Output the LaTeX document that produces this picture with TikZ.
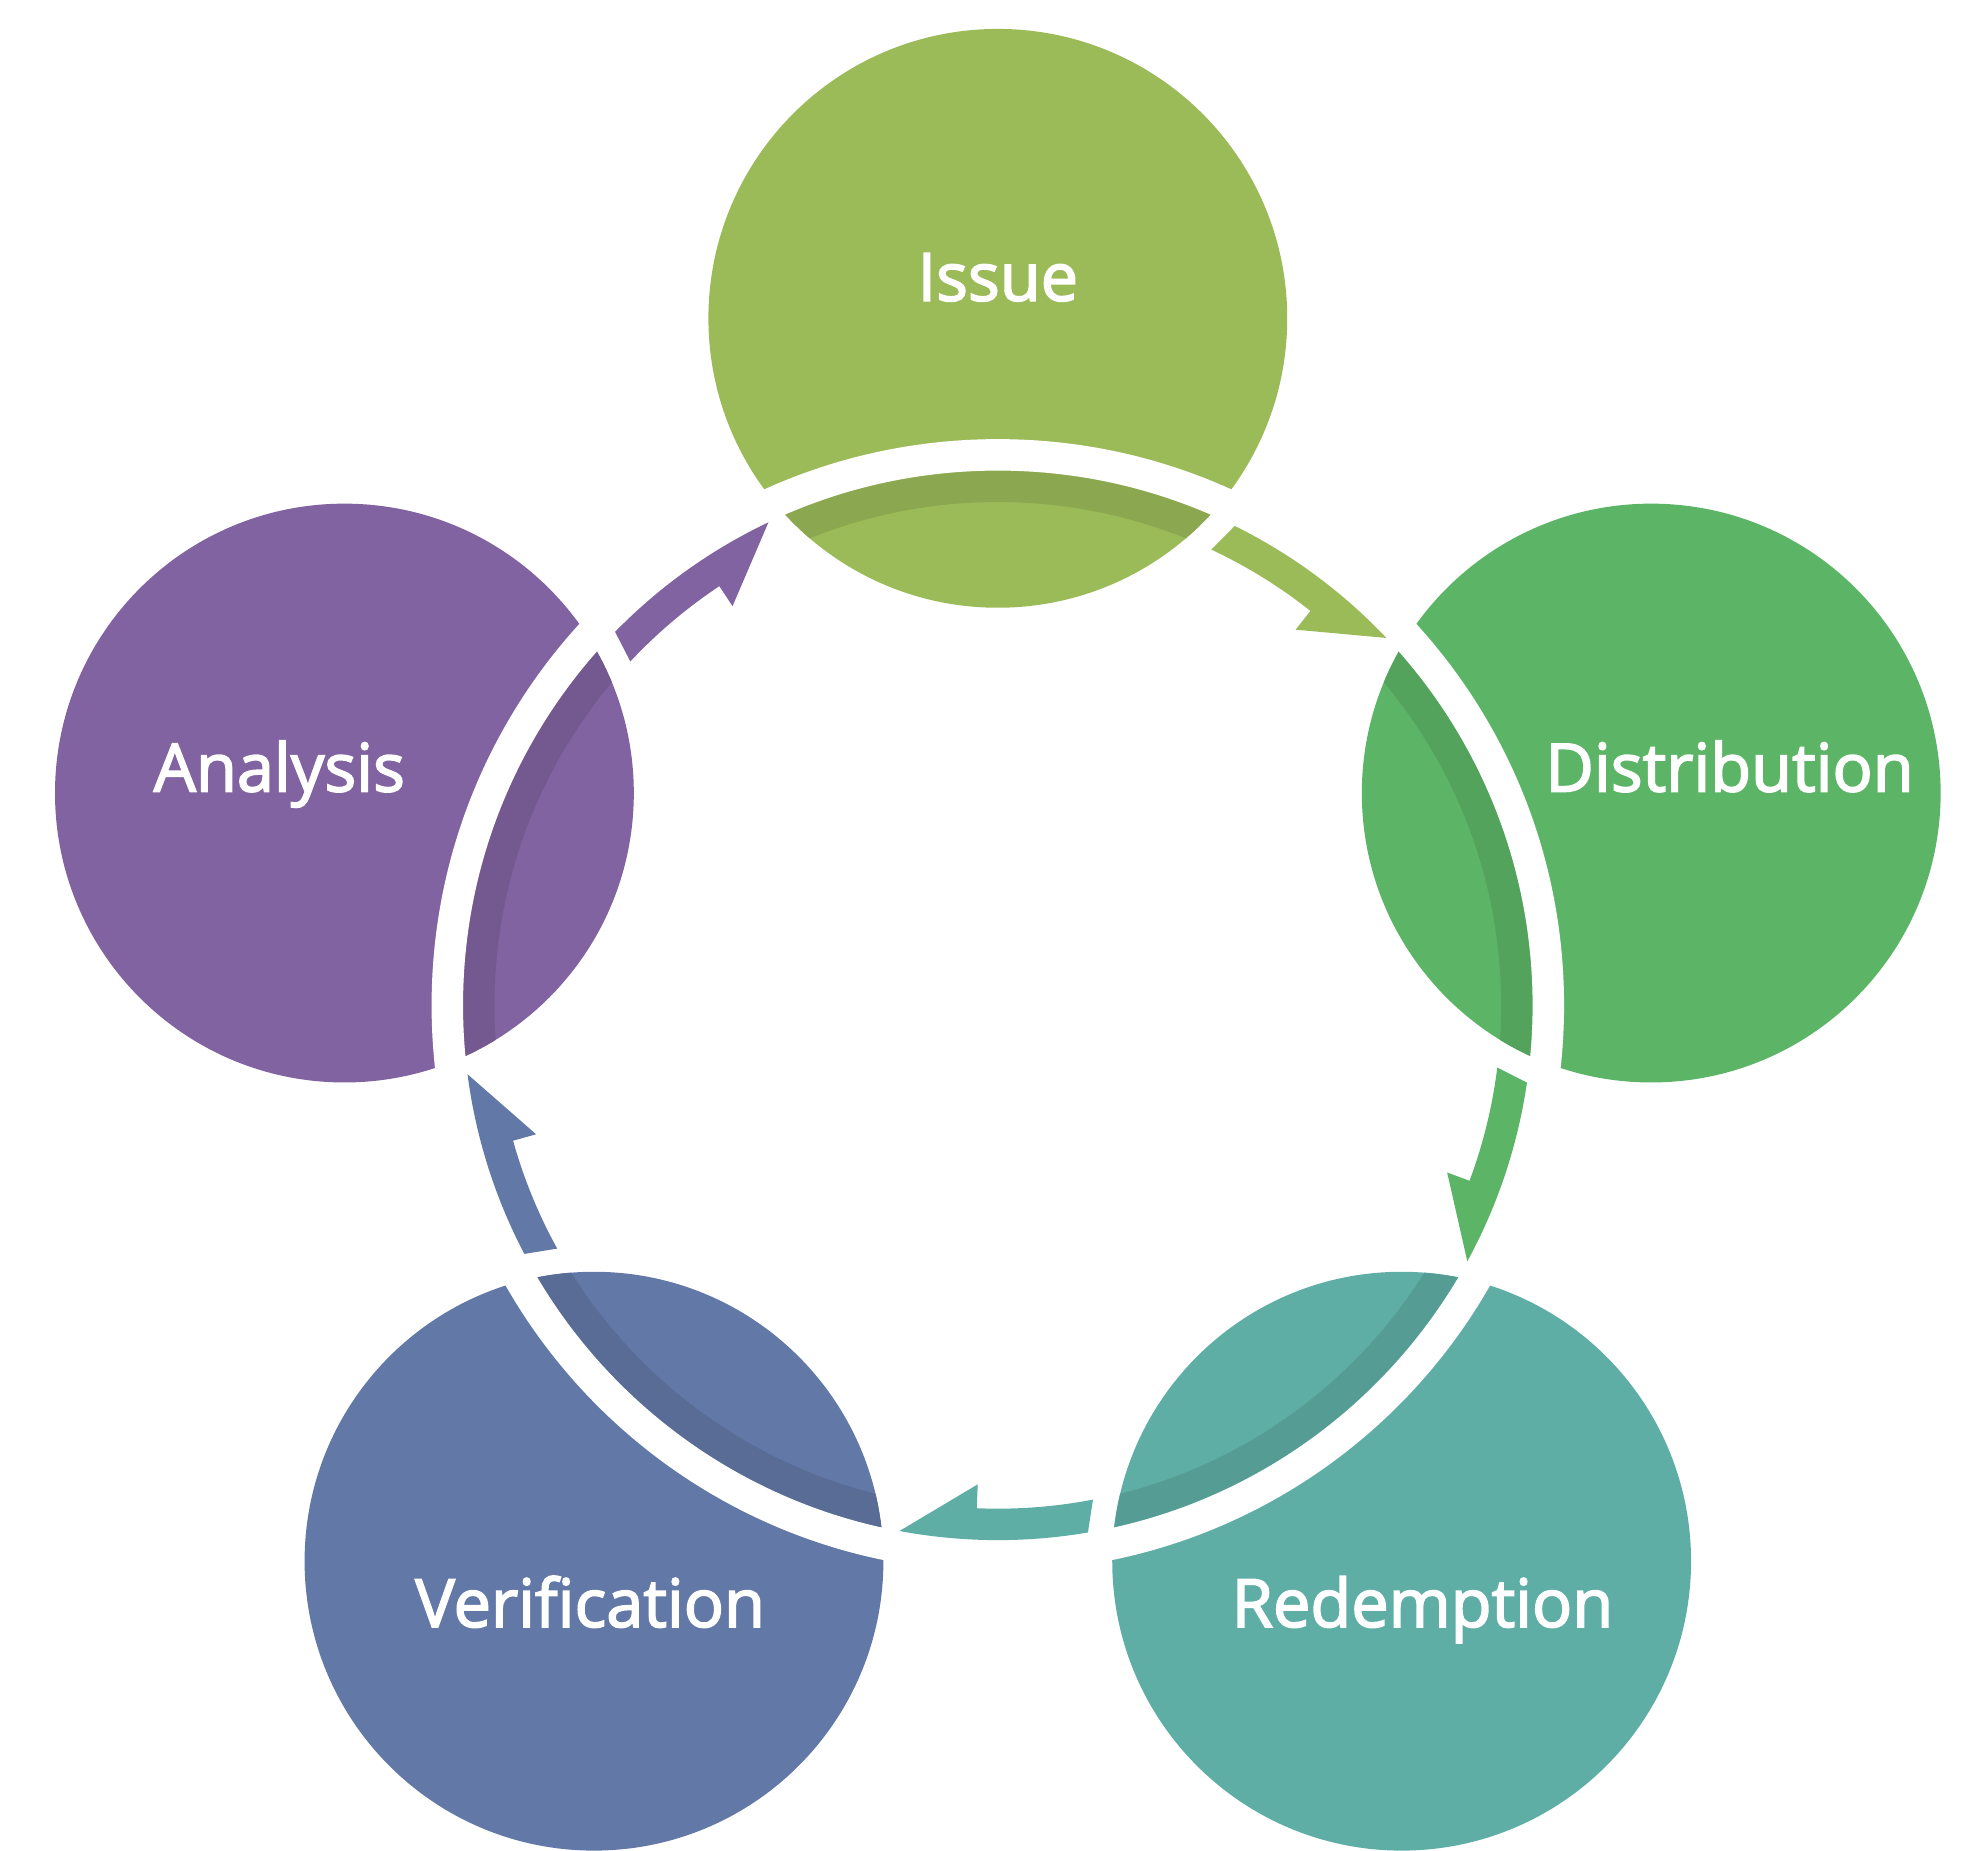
\documentclass[tikz,border=0pt]{standalone}
\usepackage{fontspec}
\setmainfont{Open Sans}
\newfontfamily\labelfont{Open Sans}[FakeBold=2.5]
\definecolor{issuegreen}{RGB}{155,187,89}
\definecolor{distgreen}{RGB}{92,181,102}
\definecolor{redeemteal}{RGB}{94,174,165}
\definecolor{verifyblue}{RGB}{98,120,166}
\definecolor{analysispurple}{RGB}{128,99,160}
\tikzset{
  stage/.style={circle,inner sep=0pt,minimum size=230pt},
  stagelabel/.style={text=white,anchor=base,font=\labelfont\fontsize{26.5}{30}\selectfont}
}
\begin{document}
\begin{tikzpicture}[x=0.5pt,y=0.5pt]
  \useasboundingbox (-793,-672) rectangle (775,799);
  % the five stages
  \node[stage,fill=issuegreen] (issue) at (90:546) {};
  \node[stage,fill=distgreen] (dist) at (18:546) {};
  \node[stage,fill=redeemteal] (redeem) at (-54:546) {};
  \node[stage,fill=verifyblue] (verify) at (-126:546) {};
  \node[stage,fill=analysispurple] (analysis) at (162:546) {};
  % ring shows darker inside each stage
  \foreach \s/\c in {issue/issuegreen,dist/distgreen,redeem/redeemteal,verify/verifyblue,analysis/analysispurple}{
    \begin{scope}
      \clip (\s.center) circle[radius=230];
      \fill[\c!90!black,even odd rule] (0,0) circle[radius=425] circle[radius=400];
    \end{scope}
  }
  % white gap outside the ring
  \fill[white,even odd rule] (0,0) circle[radius=450] circle[radius=425];
  % arrows from one stage to the next
  \foreach \a/\c in {90/issuegreen,18/distgreen,-54/redeemteal,-126/verifyblue,162/analysispurple}{
    \fill[\c] (\a-26.3:425) arc[start angle=\a-26.3,end angle=\a-46.6,radius=425]
      -- (\a-38.4:381) -- (\a-38.4:400)
      arc[start angle=\a-38.4,end angle=\a-25.1,radius=400] -- cycle;
  }
  % labels
  \node[stagelabel] (issuetext) at (0,560) {Issue};
  \node[stagelabel] (disttext) at (581.5,170) {Distribution};
  \node[stagelabel] (redeemtext) at (337.5,-494) {Redemption};
  \node[stagelabel] (verifytext) at (-324,-494) {Verification};
  \node[stagelabel] (analysistext) at (-571,170) {Analysis};
\end{tikzpicture}
\end{document}
